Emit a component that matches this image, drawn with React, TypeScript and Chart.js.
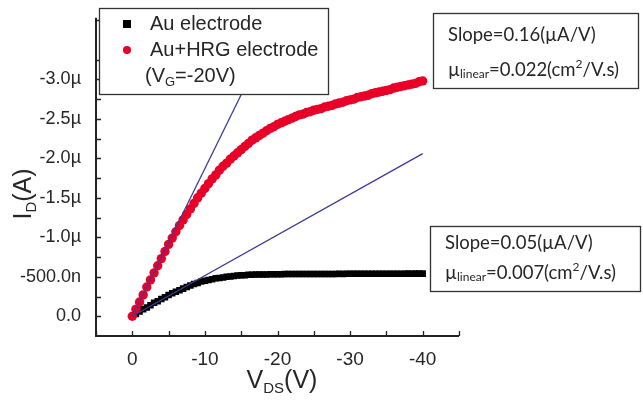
import React, { useEffect, useRef } from "react";
import { Chart, registerables } from "chart.js";
Chart.register(...registerables);

// V_DS (V)
const vds = [
  0, -0.5, -1, -1.5, -2, -2.5, -3, -3.5, -4, -4.5,
  -5, -5.5, -6, -6.5, -7, -7.5, -8, -8.5, -9, -9.5,
  -10, -10.5, -11, -11.5, -12, -12.5, -13, -13.5, -14, -14.5,
  -15, -15.5, -16, -16.5, -17, -17.5, -18, -18.5, -19, -19.5,
  -20, -20.5, -21, -21.5, -22, -22.5, -23, -23.5, -24, -24.5,
  -25, -25.5, -26, -26.5, -27, -27.5, -28, -28.5, -29, -29.5,
  -30, -30.5, -31, -31.5, -32, -32.5, -33, -33.5, -34, -34.5,
  -35, -35.5, -36, -36.5, -37, -37.5, -38, -38.5, -39, -39.5,
  -40,
];

// I_D (µA), Au+HRG electrode
const auHrgCurrent = [
  0, -0.09, -0.18, -0.27, -0.37, -0.46, -0.55, -0.64, -0.73, -0.82,
  -0.91, -0.99, -1.07, -1.15, -1.22, -1.29, -1.36, -1.43, -1.5, -1.56,
  -1.62, -1.68, -1.74, -1.79, -1.85, -1.9, -1.94, -1.99, -2.03, -2.07,
  -2.11, -2.15, -2.19, -2.23, -2.26, -2.29, -2.32, -2.35, -2.38, -2.4,
  -2.43, -2.45, -2.47, -2.49, -2.51, -2.53, -2.55, -2.56, -2.58, -2.59,
  -2.61, -2.62, -2.63, -2.65, -2.66, -2.67, -2.69, -2.7, -2.71, -2.73,
  -2.74, -2.75, -2.77, -2.78, -2.79, -2.8, -2.82, -2.83, -2.84, -2.85,
  -2.86, -2.87, -2.89, -2.9, -2.91, -2.92, -2.93, -2.94, -2.95, -2.97,
  -2.98,
];

// I_D (µA), Au electrode
const auCurrent = [
  0, -0.03, -0.06, -0.09, -0.11, -0.14, -0.17, -0.19, -0.22, -0.24,
  -0.27, -0.29, -0.31, -0.33, -0.35, -0.37, -0.39, -0.41, -0.42, -0.44,
  -0.45, -0.46, -0.47, -0.48, -0.485, -0.49, -0.5, -0.505, -0.51, -0.515,
  -0.52, -0.52, -0.525, -0.525, -0.53, -0.53, -0.53, -0.53, -0.532, -0.532,
  -0.533, -0.533, -0.534, -0.534, -0.535, -0.535, -0.535, -0.535, -0.535, -0.535,
  -0.536, -0.535, -0.536, -0.536, -0.535, -0.536, -0.536, -0.537, -0.536, -0.537,
  -0.537, -0.537, -0.537, -0.538, -0.537, -0.538, -0.538, -0.538, -0.538, -0.538,
  -0.539, -0.538, -0.539, -0.539, -0.539, -0.539, -0.54, -0.539, -0.54, -0.54,
  -0.54,
];

// linear fit lines
const fitHrgX = [0, -15.5];
const fitHrgY = [0, -2.9];
const fitAuX = [0, -40];
const fitAuY = [0, -2.06];

const xTicks = [0, -10, -20, -30, -40];
const xMinorTicks = [5, -5, -15, -25, -35, -45];
const yTicks = [0, -0.5, -1, -1.5, -2, -2.5, -3];
const yMinorTicks = [-0.25, -0.75, -1.25, -1.75, -2.25, -2.75, -3.25, -3.75];

const FONT = "'Liberation Sans', Arial, sans-serif";
const NOTE_FONT = "Lato, 'Liberation Sans', sans-serif";
const TXT = "#262626";
const RED = "rgb(232,0,40)";
const BLUE = "rgb(60,60,150)";

type Seg = { t: string; size: number; dy?: number; font?: string };

function segWidth(ctx: CanvasRenderingContext2D, segs: Seg[], def: string) {
  let w = 0;
  for (const s of segs) {
    ctx.font = `${s.size}px ${s.font || def}`;
    w += ctx.measureText(s.t).width;
  }
  return w;
}

function drawRich(
  ctx: CanvasRenderingContext2D,
  segs: Seg[],
  x: number,
  y: number,
  def: string,
  align: "left" | "center" = "left"
) {
  let cx = x;
  if (align === "center") cx = x - segWidth(ctx, segs, def) / 2;
  ctx.textAlign = "left";
  ctx.textBaseline = "middle";
  ctx.fillStyle = TXT;
  for (const s of segs) {
    ctx.font = `${s.size}px ${s.font || def}`;
    ctx.fillText(s.t, cx, y + (s.dy || 0));
    cx += ctx.measureText(s.t).width;
  }
}

const overlayPlugin = {
  id: "overlay",
  afterDatasetsDraw(chart: any) {
    const ctx: CanvasRenderingContext2D = chart.ctx;
    const { left, right, top, bottom } = chart.chartArea;
    const xs = chart.scales.x;
    const ys = chart.scales.y;
    ctx.save();

    // axes lines
    ctx.strokeStyle = "#222";
    ctx.lineWidth = 2;
    ctx.beginPath();
    ctx.moveTo(left, top);
    ctx.lineTo(left, bottom);
    ctx.lineTo(right, bottom);
    ctx.stroke();

    // inward ticks
    ctx.lineWidth = 1.3;
    ctx.beginPath();
    for (const v of [...xTicks, ...xMinorTicks]) {
      const px = Math.round(xs.getPixelForValue(v)) + 0.5;
      ctx.moveTo(px, bottom);
      ctx.lineTo(px, bottom - 5);
    }
    for (const v of [...yTicks, ...yMinorTicks]) {
      const py = Math.round(ys.getPixelForValue(v)) + 0.5;
      ctx.moveTo(left, py);
      ctx.lineTo(left + 5, py);
    }
    ctx.stroke();

    // legend box
    ctx.fillStyle = "#fff";
    ctx.fillRect(99, 8, 229, 86);
    ctx.strokeStyle = "#333";
    ctx.lineWidth = 1.3;
    ctx.strokeRect(99.5, 8.5, 229, 86);
    ctx.fillStyle = "#000";
    ctx.fillRect(123, 20, 8, 8);
    ctx.fillStyle = RED;
    ctx.beginPath();
    ctx.arc(127, 50, 4, 0, Math.PI * 2);
    ctx.fill();
    drawRich(ctx, [{ t: "Au electrode", size: 20 }], 150, 24, FONT);
    drawRich(ctx, [{ t: "Au+HRG electrode", size: 20 }], 150, 50, FONT);
    drawRich(
      ctx,
      [
        { t: "(V", size: 20 },
        { t: "G", size: 13, dy: 6 },
        { t: "=-20V)", size: 20 },
      ],
      145,
      76,
      FONT
    );

    // annotation boxes
    const boxes = [
      { x: 433, y: 13, w: 205, h: 75, l1: "0.16", l2: "0.022", y1: 35, y2: 70 },
      { x: 430, y: 226, w: 210, h: 65, l1: "0.05", l2: "0.007", y1: 243, y2: 273 },
    ];
    for (const b of boxes) {
      ctx.fillStyle = "#fff";
      ctx.fillRect(b.x, b.y, b.w, b.h);
      ctx.strokeStyle = "#333";
      ctx.lineWidth = 1.3;
      ctx.strokeRect(b.x + 0.5, b.y + 0.5, b.w, b.h);
      drawRich(ctx, [{ t: `Slope=${b.l1}(\u00b5A/V)`, size: 18.5 }], b.x + 15, b.y1, NOTE_FONT);
      drawRich(
        ctx,
        [
          { t: "\u00b5", size: 18.5 },
          { t: "linear", size: 12, dy: 4 },
          { t: `=${b.l2}(cm`, size: 18.5 },
          { t: "2", size: 12, dy: -6 },
          { t: "/V.s)", size: 18.5 },
        ],
        b.x + 15,
        b.y2,
        NOTE_FONT
      );
    }

    // axis titles
    drawRich(
      ctx,
      [
        { t: "V", size: 25 },
        { t: "DS", size: 15, dy: 8 },
        { t: "(V)", size: 25 },
      ],
      282,
      381,
      FONT,
      "center"
    );
    ctx.translate(24, 194);
    ctx.rotate(-Math.PI / 2);
    drawRich(
      ctx,
      [
        { t: "I", size: 25 },
        { t: "D", size: 15, dy: 8 },
        { t: "(A)", size: 25 },
      ],
      0,
      0,
      FONT,
      "center"
    );
    ctx.restore();
  },
};

function fmtY(v: number) {
  if (Math.abs(v) < 1e-9) return "0.0";
  if (Math.abs(v) < 1) return `${(v * 1000).toFixed(1)}n`;
  return `${v.toFixed(1)}\u00b5`;
}

export default function App() {
  const ref = useRef<HTMLCanvasElement>(null);
  useEffect(() => {
    if (!ref.current) return;
    const chart = new Chart(ref.current, {
      type: "scatter",
      data: {
        datasets: [
          {
            label: "fit HRG",
            data: fitHrgX.map((x, i) => ({ x, y: fitHrgY[i] })),
            showLine: true,
            borderColor: BLUE,
            borderWidth: 1.3,
            pointRadius: 0,
          },
          {
            label: "fit Au",
            data: fitAuX.map((x, i) => ({ x, y: fitAuY[i] })),
            showLine: true,
            borderColor: BLUE,
            borderWidth: 1.3,
            pointRadius: 0,
          },
          {
            label: "Au+HRG electrode",
            data: vds.map((x, i) => ({ x, y: auHrgCurrent[i] })),
            backgroundColor: RED,
            borderWidth: 0,
            pointRadius: 4.7,
            pointStyle: "circle",
          },
          {
            label: "Au electrode",
            data: vds.map((x, i) => ({ x, y: auCurrent[i] })),
            backgroundColor: "#000",
            borderWidth: 0,
            pointRadius: 4.6,
            pointStyle: "rect",
          },
        ],
      },
      options: {
        animation: false,
        responsive: false,
        layout: { padding: { left: 0, right: 184, top: 0, bottom: 0 } },
        plugins: { legend: { display: false }, tooltip: { enabled: false } },
        scales: {
          x: {
            type: "linear",
            min: -45,
            max: 5,
            reverse: true,
            grid: { display: false },
            border: { display: false },
            afterBuildTicks: (s: any) => {
              s.ticks = xTicks.map((v) => ({ value: v }));
            },
            afterFit: (s: any) => {
              s.height = 69;
            },
            ticks: {
              padding: 4,
              color: TXT,
              font: { family: FONT, size: 19 },
              callback: (v: any) => `${v}`,
            },
          },
          y: {
            type: "linear",
            min: -3.78,
            max: 0.25,
            reverse: true,
            grid: { display: false },
            border: { display: false },
            afterBuildTicks: (s: any) => {
              s.ticks = yTicks.map((v) => ({ value: v }));
            },
            afterFit: (s: any) => {
              s.width = 96;
            },
            ticks: {
              padding: 7,
              color: TXT,
              font: { family: FONT, size: 18 },
              callback: (v: any) => fmtY(Number(v)),
            },
          },
        },
      } as any,
      plugins: [overlayPlugin],
    });
    return () => chart.destroy();
  }, []);
  return (
    <div style={{ position: "absolute", left: 0, top: 0, width: 643, height: 405, background: "#fff" }}>
      <canvas ref={ref} width={643} height={405} style={{ display: "block" }} />
    </div>
  );
}
